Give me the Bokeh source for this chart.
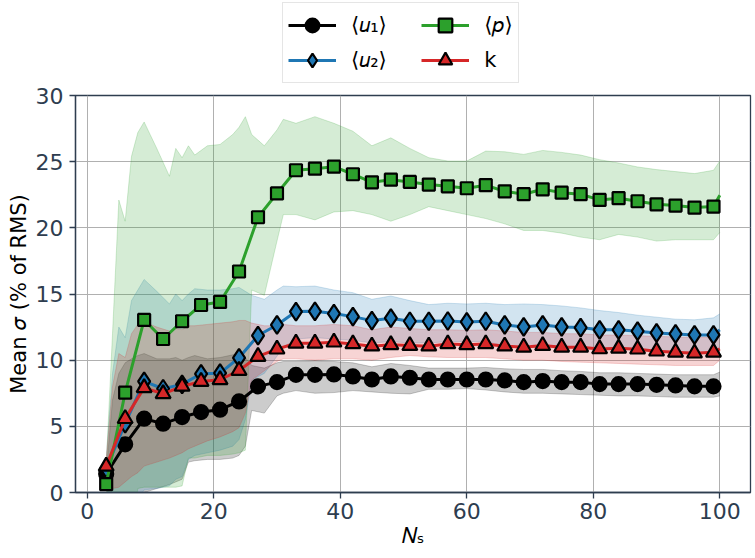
from bokeh.plotting import figure
from bokeh.models import Legend, LegendItem, Range1d
from bokeh.layouts import column
from bokeh.embed import file_html
from bokeh.resources import INLINE

# ---- data ----
Ns = [3, 6, 9, 12, 15, 18, 21, 24, 27, 30, 33, 36, 39, 42, 45, 48, 51, 54, 57, 60,
      63, 66, 69, 72, 75, 78, 81, 84, 87, 90, 93, 96, 99, 100]
u1_mean = [1.4, 3.64, 5.58, 5.2, 5.7, 6.08, 6.26, 6.88, 8.02, 8.34, 8.89, 8.89, 8.92, 8.77,
           8.54, 8.77, 8.67, 8.54, 8.54, 8.54, 8.54, 8.47, 8.34, 8.42, 8.34, 8.34, 8.19, 8.19,
           8.19, 8.14, 8.09, 8.02, 8.02, 8.14]
u2_mean = [1.8, 5.2, 8.39, 7.84, 8.17, 8.97, 9.02, 10.18, 11.86, 12.66, 13.67, 13.69, 13.52,
           13.29, 12.99, 13.17, 12.94, 12.94, 12.96, 12.89, 12.94, 12.66, 12.51, 12.66, 12.51,
           12.46, 12.29, 12.29, 12.19, 12.06, 11.98, 11.91, 11.91, 12.29]
p_mean = [0.63, 7.54, 13.04, 11.6, 12.94, 14.17, 14.4, 16.7, 20.8, 22.6, 24.35, 24.47, 24.62,
          24.05, 23.44, 23.64, 23.47, 23.27, 23.14, 22.99, 23.22, 22.76, 22.54, 22.91, 22.66,
          22.54, 22.11, 22.24, 22.01, 21.78, 21.68, 21.53, 21.61, 22.46]
k_mean = [1.98, 5.58, 7.91, 7.46, 8.02, 8.39, 8.52, 9.22, 10.28, 10.83, 11.28, 11.28, 11.36,
          11.23, 11.06, 11.16, 11.1, 11.06, 11.23, 11.16, 11.23, 11.06, 10.98, 11.1, 10.98,
          10.98, 10.85, 10.9, 10.83, 10.68, 10.6, 10.53, 10.6, 10.85]

band_x = [3, 4, 5, 6, 7, 8, 9, 11, 13, 14, 15, 16, 17, 19, 21, 23, 24, 25, 26, 28, 30, 31,
          33, 36, 39, 42, 45, 48, 51, 54, 57, 60, 63, 66, 69, 72, 75, 78, 81, 84, 87, 90,
          93, 96, 99, 100]
u1_upper = [1.5, 7.0, 9.0, 9.8, 10.1, 10.35, 10.5, 10.1, 10.1, 10.2, 10.0, 10.2, 10.35, 10.1,
            10.2, 10.4, 10.5, 10.2, 9.6, 9.4, 9.8, 9.9, 9.9, 9.95, 9.9, 9.8, 9.5, 9.75, 9.6,
            9.4, 9.4, 9.4, 9.45, 9.35, 9.3, 9.3, 9.2, 9.15, 9.05, 9.05, 9.0, 8.95, 8.9, 8.9,
            8.9, 9.1]
u1_lower = [0.2, -1, -1, -1.5, -1, -0.5, 0.0, 0.3, 0.6, 0.8, 1.0, 2.3, 2.4, 2.5, 2.5, 2.6,
            2.8, 3.5, 6.2, 6.0, 7.3, 7.5, 7.7, 7.5, 7.55, 7.7, 7.6, 7.5, 7.45, 7.8, 7.8, 7.85,
            7.75, 7.6, 7.5, 7.5, 7.45, 7.4, 7.35, 7.3, 7.3, 7.25, 7.2, 7.2, 7.2, 7.3]
u2_upper = [2.5, 9.0, 12.5, 11.7, 14.5, 15.3, 16.1, 15.2, 14.25, 15.0, 14.5, 15.0, 15.4, 15.3,
            15.3, 15.4, 15.5, 15.2, 14.9, 14.6, 15.3, 15.6, 15.55, 15.6, 15.3, 15.1, 14.6,
            14.85, 14.5, 14.2, 14.3, 14.25, 14.3, 14.2, 14.25, 14.2, 14.1, 13.95, 13.75, 13.6,
            13.4, 13.25, 13.1, 13.05, 13.2, 13.5]
u2_lower = [0.5, -1, -1.5, -1, -0.5, -0.5, 0.2, 0.3, 0.5, 1.0, 1.2, 2.5, 2.8, 3.0, 3.2, 3.5,
            4.0, 5.5, 8.5, 9.0, 10.3, 11.0, 11.6, 11.7, 11.6, 11.5, 11.3, 11.4, 11.3, 11.3,
            11.4, 11.4, 11.4, 11.1, 10.9, 11.0, 10.9, 10.9, 10.8, 10.8, 10.8, 10.7, 10.6, 10.6,
            10.6, 11.0]
p_upper = [2.0, 12.0, 22.1, 20.5, 25.4, 27.2, 28.0, 26.0, 23.9, 26.0, 25.3, 26.2, 25.5, 26.2,
           26.3, 27.05, 27.6, 28.4, 27.05, 26.2, 27.4, 28.2, 27.9, 28.4, 27.9, 27.3, 26.2, 26.8,
           26.0, 25.3, 25.05, 25.05, 25.8, 25.75, 25.55, 25.85, 25.7, 25.5, 25.15, 24.9, 24.6,
           24.4, 24.25, 24.1, 24.35, 25.05]
p_lower = [-0.5, -3, -4, -4, -3, 0.3, 0.4, 0.4, 0.4, 0.4, 0.5, 2.6, 2.6, 2.8, 2.8, 2.9, 3.0,
           3.2, 15.3, 14.9, 19.0, 21.0, 21.0, 20.6, 21.2, 21.3, 21.0, 20.5, 21.0, 21.6, 21.3,
           21.0, 20.7, 20.3, 19.8, 19.8, 19.6, 19.3, 19.1, 19.5, 19.3, 19.0, 19.1, 19.1, 19.1,
           19.65]
k_upper = [2.5, 8.0, 10.5, 10.2, 12.0, 12.7, 12.9, 12.5, 12.2, 12.4, 12.3, 12.6, 12.6, 12.7,
           12.8, 12.9, 13.0, 13.0, 12.8, 12.6, 12.6, 12.7, 12.6, 12.6, 12.7, 12.6, 12.3, 12.5,
           12.4, 12.3, 12.3, 12.25, 12.3, 12.2, 12.1, 12.1, 12.0, 12.0, 11.9, 11.9, 11.85,
           11.8, 11.75, 11.7, 11.75, 12.1]
k_lower = [1.0, 0.3, 0.4, 0.8, 1.2, 1.5, 2.0, 2.3, 2.6, 2.8, 3.0, 3.3, 3.5, 3.9, 4.2, 4.6,
           4.9, 6.0, 8.5, 9.2, 9.9, 10.1, 10.1, 10.0, 10.1, 10.1, 10.0, 10.2, 10.35, 10.25,
           10.2, 10.2, 10.2, 10.1, 10.0, 10.0, 9.9, 9.85, 9.8, 9.75, 9.7, 9.65, 9.6, 9.6, 9.6,
           10.0]

x_ticks = [0, 20, 40, 60, 80, 100]
y_ticks = [0, 5, 10, 15, 20, 25, 30]
labels = ["⟨𝑢₁⟩", "⟨𝑢₂⟩", "⟨𝑝⟩", "k"]
col_gap = "\u00a0" * 5  # widens the first legend column, as in the reference

# ---- styling ----
FONT = "DejaVu Sans"
AX = "#2E3D4F"
series = [
    (u1_mean, u1_upper, u1_lower, "#000000", "circle", 14),
    (u2_mean, u2_upper, u2_lower, "#1f77b4", "diamond", 18),
    (p_mean, p_upper, p_lower, "#2ca02c", "square", 12),
    (k_mean, k_upper, k_lower, "#d62728", "triangle", 15),
]

W = 755
TOP_H = 84
H = 474
BL, BR, BT, BB = 75, 5, 11, 66

# --- legend strip above the axes (its frame is aligned with the main frame) ---
leg_fig = figure(width=W, height=TOP_H, x_range=Range1d(0, 1), y_range=Range1d(0, 1),
                 output_backend="svg", toolbar_location=None,
                 x_axis_type=None, y_axis_type=None,
                 min_border_left=BL, min_border_right=BR, min_border_top=0, min_border_bottom=0)
leg_fig.grid.visible = False
leg_fig.outline_line_color = None
leg_fig.border_fill_color = "white"
leg_fig.background_fill_color = "white"

# --- main axes ---
p = figure(width=W, height=H, x_range=Range1d(-1.85, 104.85), y_range=Range1d(0, 30),
           output_backend="svg", toolbar_location=None,
           min_border_left=BL, min_border_right=BR, min_border_top=BT, min_border_bottom=BB)

for mean, up, lo, col, mk, sz in series:
    p.varea(x=band_x, y1=lo, y2=up, fill_color=col, fill_alpha=0.2)
    p.line(band_x, up, line_color=col, line_alpha=0.2, line_width=1)
    p.line(band_x, lo, line_color=col, line_alpha=0.2, line_width=1)

items = []
for i, ((mean, up, lo, col, mk, sz), lab) in enumerate(zip(series, labels)):
    p.line(Ns, mean, line_color=col, line_width=3)
    p.scatter(Ns[:-1], mean[:-1], marker=mk, size=sz, fill_color=col,
              line_color="black", line_width=2.2)
    # matching legend glyphs in the strip above (placed outside its visible range)
    lr = leg_fig.line([5, 6], [5, 5], line_color=col, line_width=3)
    sr = leg_fig.scatter([5], [5], marker=mk, size=sz, fill_color=col,
                         line_color="black", line_width=2.2)
    text = lab + col_gap if i < 2 else lab
    items.append(LegendItem(label=text, renderers=[lr, sr]))

legend = Legend(items=items, ncols=2, location=(282 - BL, 1))
legend.label_text_font = FONT
legend.label_text_font_size = "21px"
legend.label_text_color = "#000000"
legend.border_line_color = "#cccccc"
legend.border_line_width = 1.2
legend.background_fill_color = "white"
legend.glyph_width = 48
legend.glyph_height = 34
legend.label_height = 34
legend.label_width = 20
legend.label_standoff = 15
legend.padding = 5
legend.spacing = 1
legend.margin = 0
leg_fig.add_layout(legend, "center")

for ax in (p.xaxis, p.yaxis):
    ax.axis_line_color = AX
    ax.axis_line_width = 1.3
    ax.major_tick_line_color = AX
    ax.major_tick_line_width = 1.3
    ax.major_tick_out = 6
    ax.major_tick_in = 0
    ax.minor_tick_line_color = None
    ax.major_label_text_font = FONT
    ax.major_label_text_font_size = "22px"
    ax.major_label_text_color = AX
    ax.axis_label_text_font = FONT
    ax.axis_label_text_font_size = "21px"
    ax.axis_label_text_font_style = "normal"
    ax.axis_label_text_color = "#000000"

p.xaxis.major_label_standoff = 4
p.yaxis.major_label_standoff = 6
p.xaxis.ticker = x_ticks
p.yaxis.ticker = y_ticks
p.xaxis.axis_label = "𝑁ₛ"
p.yaxis.axis_label = "Mean 𝜎 (% of RMS)"
p.xaxis.axis_label_standoff = 2
p.yaxis.axis_label_standoff = 2

p.xgrid.grid_line_color = "#b0b0b0"
p.ygrid.grid_line_color = "#b0b0b0"
p.xgrid.grid_line_width = 1
p.ygrid.grid_line_width = 1
p.outline_line_color = AX
p.outline_line_width = 1.3
p.outline_line_alpha = 1
p.background_fill_color = "white"
p.border_fill_color = "white"

layout = column(leg_fig, p, spacing=0)
open("out.html", "w").write(file_html(layout, INLINE))
